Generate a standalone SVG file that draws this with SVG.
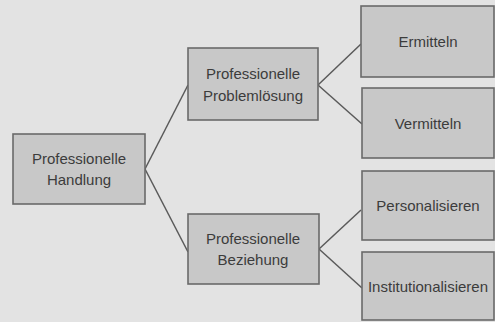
<svg xmlns="http://www.w3.org/2000/svg" width="495" height="322" viewBox="0 0 495 322">
<style>
.box{fill:#c8c8c8;stroke:#6a6a6a;stroke-width:1.6}
.t{font-family:"Liberation Sans","Open Sans",Arial,sans-serif;font-size:15px;fill:#3c3c3c;text-anchor:middle}
.edge{stroke:#5a5a5a;stroke-width:1.5;fill:none}
</style>
<rect width="495" height="322" fill="#e3e3e3"/>
<g id="connectors">
<line class="edge" x1="145" y1="169" x2="188" y2="85"/>
<line class="edge" x1="145" y1="169" x2="188" y2="252"/>
<line class="edge" x1="318" y1="85" x2="361" y2="44"/>
<line class="edge" x1="318" y1="85" x2="362" y2="124"/>
<line class="edge" x1="319" y1="249" x2="361" y2="210"/>
<line class="edge" x1="319" y1="249" x2="362" y2="288"/>
</g>
<g id="handlung">
<rect class="box" x="13" y="134" width="132" height="70"/>
<text class="t" x="79" y="164">Professionelle</text>
<text class="t" x="79" y="185">Handlung</text>
</g>
<g id="problemloesung">
<rect class="box" x="188" y="48" width="130" height="72"/>
<text class="t" x="253" y="79">Professionelle</text>
<text class="t" x="253" y="101">Problemlösung</text>
</g>
<g id="beziehung">
<rect class="box" x="188" y="214" width="131" height="70"/>
<text class="t" x="253" y="244">Professionelle</text>
<text class="t" x="253" y="265">Beziehung</text>
</g>
<g id="ermitteln">
<rect class="box" x="361" y="6" width="133" height="71"/>
<text class="t" x="428" y="47">Ermitteln</text>
</g>
<g id="vermitteln">
<rect class="box" x="362" y="88" width="132" height="70"/>
<text class="t" x="428" y="129">Vermitteln</text>
</g>
<g id="personalisieren">
<rect class="box" x="362" y="171" width="132" height="69"/>
<text class="t" x="428" y="211">Personalisieren</text>
</g>
<g id="institutionalisieren">
<rect class="box" x="362" y="252" width="132" height="68"/>
<text class="t" x="428" y="292">Institutionalisieren</text>
</g>
</svg>
